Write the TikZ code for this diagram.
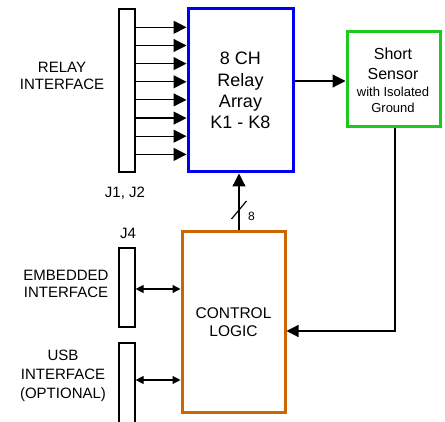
\documentclass[tikz,border=0pt]{standalone}
\usepackage{fontspec}
\setmainfont{Liberation Sans}
\usetikzlibrary{arrows.meta}
\definecolor{relayblue}{RGB}{0,0,240}
\definecolor{sensegreen}{RGB}{30,200,30}
\definecolor{ctrlorange}{RGB}{204,102,0}
\tikzset{
  conn/.style={draw=black, line width=1.2pt, fill=white, minimum width=16pt, inner sep=0pt},
  blk/.style={draw, fill=white, line width=3pt, inner sep=0pt, align=center},
  lbl/.style={align=center, inner sep=0pt, font=\fontsize{15}{17}\selectfont},
  bigarrow/.style={line width=1.2pt, -{Triangle[length=13pt,width=13pt]}},
  medarrow/.style={line width=1.2pt, -{Triangle[length=12pt,width=12pt]}},
  biarrow/.style={line width=1.2pt, {Triangle[length=8pt,width=8pt]}-{Triangle[length=8pt,width=8pt]}},
}
\begin{document}
\begin{tikzpicture}[x=1pt,y=-1pt]
\useasboundingbox (0,0) rectangle (445,422);
\clip (0,0) rectangle (445,422);
% connectors
\node[conn, minimum height=163pt] (jr) at (127,90.5) {};
\node[conn, minimum height=79pt] (jfour) at (127,287.5) {};
\node[conn, minimum height=90pt] (jusb) at (127,388) {};
% blocks
\node[blk, draw=relayblue, minimum width=105pt, minimum height=163pt,
      font=\fontsize{18}{21.3}\selectfont] (relay) at (240.5,90.5) {8 CH\\Relay\\Array\\K1 - K8};
\node[blk, draw=sensegreen, minimum width=93pt, minimum height=95pt] (sense) at (393.5,79.5) {};
\node[inner sep=0pt, font=\fontsize{16}{18}\selectfont] (sshort) at (393,53.5) {Short};
\node[inner sep=0pt, font=\fontsize{16}{18}\selectfont] (ssensor) at (393,73.5) {Sensor};
\node[inner sep=0pt, font=\fontsize{13}{15}\selectfont] (swith) at (393,91.5) {with Isolated};
\node[inner sep=0pt, font=\fontsize{13}{15}\selectfont] (sground) at (393,107.5) {Ground};
\node[blk, draw=ctrlorange, minimum width=103pt, minimum height=181pt,
      font=\fontsize{15.5}{18}\selectfont] (ctrl) at (233.5,322.5) {CONTROL\\LOGIC};
% labels
\node[lbl] (lrelay) at (62,75.5) {RELAY\\INTERFACE};
\node[lbl] (ljone) at (125,193) {J1, J2};
\node[lbl] (ljfour) at (128,233) {J4};
\node[lbl] (lemb) at (66,283.5) {EMBEDDED\\INTERFACE};
\node[lbl, font=\fontsize{15}{19}\selectfont] (lusb) at (63,376) {USB\\INTERFACE\\(OPTIONAL)};
% relay input arrows
\foreach \yy in {27.3,45.5,63.6,81.8,99.9,118.1,136.2,154.4}
  \draw[bigarrow] (jr.east |- 0,\yy) -- (relay.west |- 0,\yy);
% relay to sensor
\draw[bigarrow] (relay.east |- 0,81) -- (sense.west |- 0,81);
% sensor to control
\coordinate (bend) at (395,331);
\draw[medarrow] (sense.south -| bend) -- (bend) -- (ctrl.east |- bend);
% control to relay bus
\coordinate (busbot) at (239,0);
\draw[bigarrow] (ctrl.north -| busbot) -- (relay.south -| busbot);
\coordinate (slasha) at (231.5,219);
\coordinate (slashb) at (246.5,201);
\draw[line width=1.2pt] (slasha) -- (slashb);
\node[inner sep=0pt, font=\fontsize{12}{14}\selectfont] (buswidth) at (251.5,216) {8};
% bidirectional interface arrows
\draw[biarrow] (jfour.east |- 0,289) -- (ctrl.west |- 0,289);
\draw[biarrow] (jusb.east |- 0,380) -- (ctrl.west |- 0,380);
\end{tikzpicture}
\end{document}
